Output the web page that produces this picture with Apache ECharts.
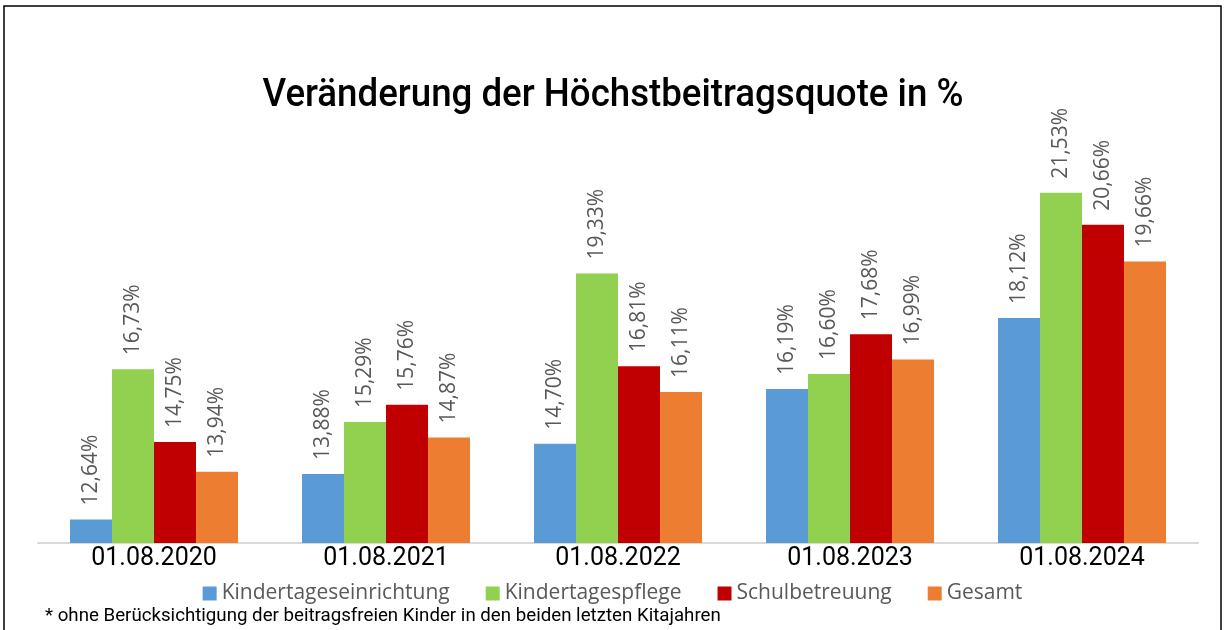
<!DOCTYPE html>
<html>
<head>
<meta charset="utf-8">
<script src="https://cdn.jsdelivr.net/npm/echarts@6/dist/echarts.min.js"></script>
<style>
  html, body { margin: 0; padding: 0; background: #fff; }
  #chart { width: 1225px; height: 630px; }
</style>
</head>
<body>
<div id="chart"></div>
<script>
// Stichtage
const categories = ['01.08.2020', '01.08.2021', '01.08.2022', '01.08.2023', '01.08.2024'];

// Höchstbeitragsquote in %
const kindertageseinrichtung = [12.64, 13.88, 14.70, 16.19, 18.12];
const kindertagespflege = [16.73, 15.29, 19.33, 16.60, 21.53];
const schulbetreuung = [14.75, 15.76, 16.81, 17.68, 20.66];
const gesamt = [13.94, 14.87, 16.11, 16.99, 19.66];

const seriesNames = ['Kindertageseinrichtung', 'Kindertagespflege', 'Schulbetreuung', 'Gesamt'];
const colors = ['#5b9bd5', '#92d050', '#c00000', '#ed7d31'];

const chart = echarts.init(document.getElementById('chart'));

// Prozentwerte mit Komma
const fmt = (p) => p.value.toFixed(2).replace('.', ',') + '%';

function makeSeries(name, data, idx) {
  return {
    name: name,
    type: 'bar',
    data: data,
    barGap: '0%',
    barCategoryGap: '27.6%',
    itemStyle: { color: colors[idx] },
    label: {
      show: true,
      position: 'top',
      rotate: 90,
      align: 'left',
      verticalAlign: 'middle',
      distance: 14,
      formatter: fmt,
      color: '#595959',
      fontFamily: 'Open Sans',
      fontSize: 21
    }
  };
}

chart.setOption({
  animation: false,
  legend: {
    bottom: 21,
    left: 'center',
    itemWidth: 14,
    itemHeight: 14,
    itemGap: 36,
    icon: 'rect',
    textStyle: {
      fontFamily: 'Open Sans',
      fontSize: 21,
      color: '#595959'
    },
    data: seriesNames
  },
  grid: {
    left: 38,
    right: 27,
    top: 102,
    bottom: 87
  },
  xAxis: {
    type: 'category',
    data: categories,
    axisTick: { show: false },
    axisLine: { lineStyle: { color: '#d9d9d9', width: 2 } },
    axisLabel: {
      fontFamily: 'Roboto',
      fontSize: 25,
      color: '#000',
      margin: 3
    }
  },
  yAxis: {
    type: 'value',
    min: 12,
    max: 24,
    show: false,
    splitLine: { show: false }
  },
  graphic: [
    {
      type: 'rect',
      shape: { x: 4, y: 6, width: 1217, height: 640 },
      style: { fill: 'none', stroke: '#000', lineWidth: 1.5 },
      silent: true
    },
    {
      // Titel etwas schmaler wie im Original
      type: 'text',
      x: 613,
      y: 96,
      scaleX: 0.94,
      style: {
        text: 'Veränderung der Höchstbeitragsquote in %',
        x: 0,
        y: 0,
        textAlign: 'center',
        textVerticalAlign: 'middle',
        fontFamily: 'Roboto',
        fontWeight: 500,
        fontSize: 39,
        fill: '#000'
      }
    },
    {
      type: 'text',
      left: 45,
      top: 607,
      style: {
        text: '* ohne Berücksichtigung der beitragsfreien Kinder in den beiden letzten Kitajahren',
        fontFamily: 'Roboto',
        fontSize: 18.7,
        fill: '#000'
      }
    }
  ],
  series: [
    makeSeries(seriesNames[0], kindertageseinrichtung, 0),
    makeSeries(seriesNames[1], kindertagespflege, 1),
    makeSeries(seriesNames[2], schulbetreuung, 2),
    makeSeries(seriesNames[3], gesamt, 3)
  ]
});

window.addEventListener('resize', () => chart.resize());
</script>
</body>
</html>
